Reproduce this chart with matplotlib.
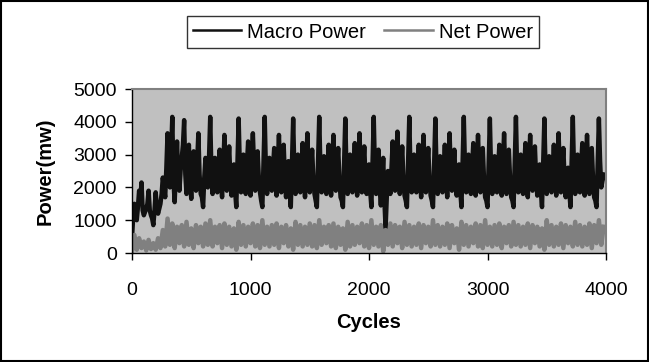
import numpy as np
import matplotlib
matplotlib.use("Agg")
import matplotlib.pyplot as plt
from matplotlib.patches import Rectangle

# Macro Power sampled every 10 cycles, Net Power every 20 cycles (mW),
# values read off the reference picture
macro_step = 10
net_step = 20
macro_power = [
    450, 1100, 1500, 1250, 1000, 1400, 1900, 1600, 2150, 1300, 1150, 1250, 1350, 1500, 1900, 1300, 1150, 1050, 850, 1300,
    1850, 1400, 1200, 1350, 1500, 1800, 2300, 2000, 1700, 2600, 3650, 2500, 2000, 3000, 4150, 2200, 1550, 2500, 3400, 2300,
    1900, 2500, 2900, 3300, 4050, 2400, 1800, 2600, 3300, 2200, 1650, 2500, 3100, 2300, 1900, 2800, 3650, 2400, 1800, 1700,
    1400, 2300, 2900, 2200, 2000, 2900, 4150, 2500, 1800, 2400, 2900, 2100, 1850, 2700, 3150, 2200, 1700, 2600, 3600, 2500,
    1900, 2600, 3250, 2300, 1750, 2400, 2700, 1900, 1400, 2700, 4100, 2600, 1850, 2500, 3000, 2200, 1800, 2700, 3400, 2400,
    1750, 2800, 3650, 2600, 1900, 2500, 3100, 2300, 1850, 1600, 1400, 2800, 4150, 2500, 1800, 2400, 2900, 2200, 1900, 2600,
    3200, 2300, 1750, 2700, 3600, 2500, 1850, 2600, 3300, 2300, 1700, 2300, 2800, 1900, 1400, 2700, 4100, 2500, 1800, 2400,
    3000, 2200, 1850, 2600, 3350, 2400, 1700, 2700, 3650, 2500, 1850, 2500, 3150, 2300, 1800, 1600, 1400, 2800, 4150, 2600,
    1850, 2400, 2950, 2200, 1800, 2600, 3300, 2400, 1750, 2700, 3600, 2500, 1900, 2600, 3200, 2300, 1700, 1600, 1400, 2700,
    4100, 2500, 1800, 2400, 3000, 2200, 1850, 2600, 3350, 2400, 1750, 2700, 3650, 2500, 1850, 2600, 3250, 2300, 1800, 2200,
    2700, 1900, 1400, 2800, 4150, 2500, 1800, 2500, 3150, 2000, 1450, 2200, 2900, 1600, 750, 1700, 2500, 2100, 1800, 2600,
    3400, 2500, 1900, 2800, 3700, 2500, 1800, 2500, 3250, 2300, 1750, 1600, 1400, 2800, 4150, 2500, 1850, 2400, 3000, 2300,
    1850, 2600, 3300, 2400, 1700, 2700, 3600, 2500, 1850, 2600, 3200, 2300, 1750, 1600, 1400, 2700, 4100, 2500, 1800, 2400,
    2950, 2200, 1850, 2600, 3300, 2400, 1700, 2700, 3650, 2500, 1900, 2500, 3150, 2300, 1750, 2300, 2700, 1900, 1400, 2800,
    4150, 2600, 1850, 2400, 3000, 2200, 1800, 2600, 3350, 2400, 1750, 2700, 3600, 2500, 1850, 2600, 3200, 2300, 1700, 1600,
    1400, 2700, 4100, 2500, 1800, 2400, 2950, 2200, 1850, 2600, 3300, 2400, 1750, 2700, 3650, 2500, 1800, 2500, 3150, 2300,
    1700, 1600, 1400, 2800, 4150, 2500, 1850, 2400, 3000, 2200, 1800, 2600, 3350, 2400, 1700, 2700, 3600, 2500, 1900, 2600,
    3250, 2300, 1750, 2300, 2700, 1900, 1400, 2700, 4100, 2500, 1800, 2400, 2950, 2200, 1850, 2600, 3300, 2400, 1750, 2700,
    3650, 2500, 1850, 2600, 3200, 2300, 1700, 2200, 2600, 1900, 1400, 2800, 4150, 2500, 1800, 2400, 3000, 2200, 1850, 2600,
    3350, 2400, 1750, 2700, 3600, 2500, 1800, 2500, 3200, 2300, 1700, 1600, 1400, 2700, 4100, 2800, 2000, 2200, 2400, 2300,
]
net_power = [
    50, 550, 100, 450, 150, 350, 80, 400, 120, 300,
    100, 450, 150, 700, 200, 1050, 250, 900, 150, 800,
    300, 850, 200, 950, 250, 750, 150, 850, 300, 800,
    200, 900, 250, 1000, 200, 800, 300, 850, 150, 900,
    250, 800, 200, 750, 100, 950, 250, 850, 200, 800,
    300, 900, 200, 850, 150, 1000, 250, 800, 200, 850,
    250, 900, 150, 800, 300, 850, 200, 750, 100, 950,
    250, 850, 200, 800, 250, 900, 200, 850, 150, 1000,
    250, 800, 300, 850, 200, 900, 150, 800, 250, 750,
    100, 950, 200, 850, 250, 800, 300, 900, 200, 850,
    150, 1000, 250, 800, 200, 850, 50, 700, 250, 900,
    200, 850, 300, 800, 150, 950, 250, 850, 200, 800,
    250, 900, 150, 850, 300, 800, 200, 1000, 250, 850,
    200, 800, 250, 900, 150, 850, 300, 750, 100, 950,
    250, 850, 200, 800, 300, 900, 200, 850, 150, 1000,
    250, 800, 200, 850, 250, 900, 150, 800, 300, 850,
    200, 950, 250, 850, 200, 800, 250, 900, 150, 850,
    300, 800, 200, 750, 100, 1000, 250, 850, 200, 800,
    250, 900, 150, 850, 300, 800, 200, 950, 250, 850,
    200, 800, 250, 900, 150, 850, 300, 1000, 250, 800,
]
y_ticks = [0, 1000, 2000, 3000, 4000, 5000]
x_ticks = [0, 1000, 2000, 3000, 4000]

cycles_macro = np.arange(len(macro_power)) * macro_step
cycles_net = np.arange(len(net_power)) * net_step

plt.rcParams['font.family'] = ['Liberation Sans', 'DejaVu Sans']

fig = plt.figure(figsize=(6.49, 3.62), dpi=100)
# plot area: x 132..606 px, y 89..253 px
ax = fig.add_axes([132 / 649, 1 - 253 / 362, 474 / 649, 164 / 362])
ax.set_facecolor('#C0C0C0')

ax.plot(cycles_macro, macro_power, color='#111111', lw=3.2, label='Macro Power')
ax.plot(cycles_net, net_power, color='#808080', lw=3.2, label='Net Power')

ax.set_xlim(0, 4000)
ax.set_ylim(0, 5000)
ax.set_xticks(x_ticks)
ax.set_yticks(y_ticks)
ax.tick_params(direction='out', length=5, width=1, labelsize=14, colors='black', pad=6)
ax.tick_params(axis='x', pad=16)
ax.set_xlabel('Cycles', fontsize=14.5, fontweight='bold', labelpad=10)
ax.set_ylabel('Power(mw)', fontsize=14.5, fontweight='bold', labelpad=13)

for side in ['top', 'right']:
    ax.spines[side].set_color('#808080')
    ax.spines[side].set_linewidth(1.5)
for side in ['left', 'bottom']:
    ax.spines[side].set_color('black')
    ax.spines[side].set_linewidth(1)

leg = fig.legend(loc='center', bbox_to_anchor=(363 / 649, 1 - 32 / 362), ncol=2, fontsize=14.5,
                 frameon=True, fancybox=False, edgecolor='black', handlelength=2.4,
                 handletextpad=0.3, columnspacing=0.9, borderpad=0.3, borderaxespad=0)
leg.get_frame().set_linewidth(1)
for line in leg.get_lines():
    line.set_linewidth(1.8)

fig.patches.append(Rectangle((0.001, 0.002), 0.997, 0.996, transform=fig.transFigure,
                             fill=False, edgecolor='black', lw=1.5))

fig.savefig('out.png', dpi=100)
